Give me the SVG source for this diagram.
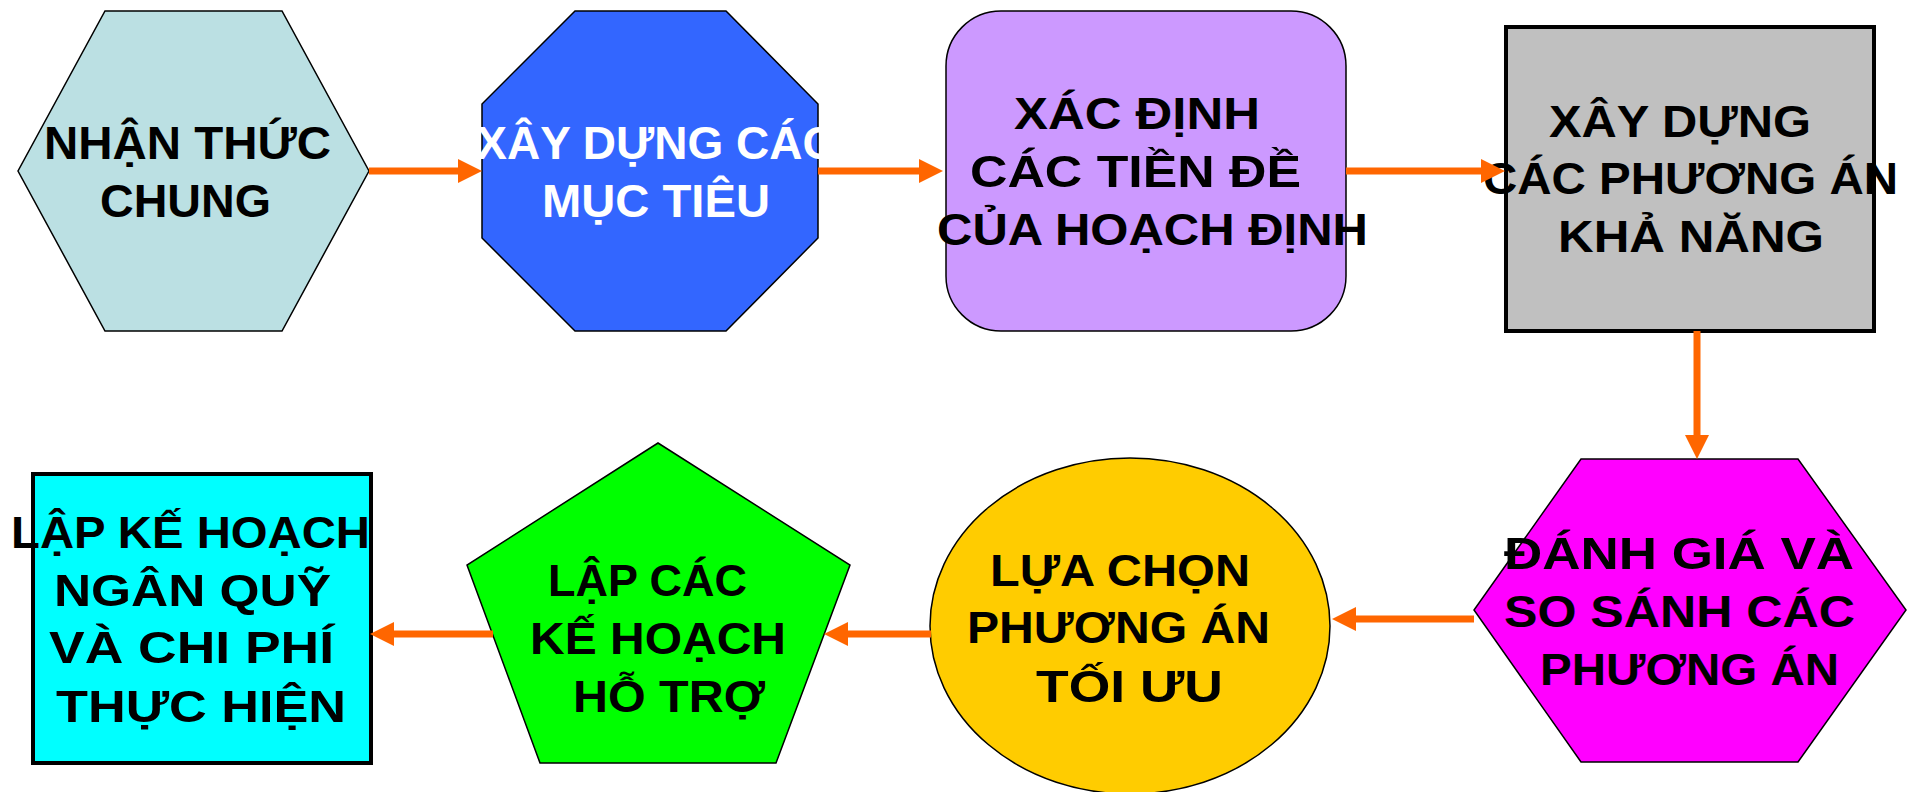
<svg xmlns="http://www.w3.org/2000/svg" width="1919" height="792" viewBox="0 0 1919 792">
  <style>
    .shape { stroke: #000; stroke-width: 1.5; }
    .box { stroke: #000; stroke-width: 4; }
    .lbl { font-family: "Liberation Sans", Arial, "Noto Sans", sans-serif; font-weight: bold; font-size: 46px; fill: #000; }
    .narrow { font-size: 45px; }
    .white { fill: #fff; }
    .conn { stroke: #FF6600; stroke-width: 7; fill: none; marker-end: url(#head); }
  </style>
  <defs>
    <marker id="head" markerUnits="userSpaceOnUse" viewBox="0 0 24 24" refX="1" refY="12" markerWidth="24" markerHeight="24" orient="auto">
      <path d="M0,0 L24,12 L0,24 Z" fill="#FF6600"/>
    </marker>
  </defs>
  <rect width="1919" height="792" fill="#fff"/>

  <!-- Step 1: hexagon -->
  <g id="nhan-thuc-chung">
    <polygon class="shape" points="105,11 282,11 369,171 282,331 105,331 18,171" fill="#BBE0E3"/>
    <text class="lbl" x="44" y="159" textLength="287" lengthAdjust="spacingAndGlyphs">NHẬN THỨC</text>
    <text class="lbl" x="100" y="217" textLength="171" lengthAdjust="spacingAndGlyphs">CHUNG</text>
  </g>

  <!-- Step 2: octagon -->
  <g id="xay-dung-muc-tieu">
    <polygon class="shape" points="575,11 726,11 818,104 818,238 726,331 575,331 482,238 482,104" fill="#3366FF"/>
    <text class="lbl white" x="656" y="159" text-anchor="middle">XÂY DỰNG CÁC</text>
    <text class="lbl white" x="542" y="217" textLength="228" lengthAdjust="spacingAndGlyphs">MỤC TIÊU</text>
  </g>

  <!-- Step 3: rounded rectangle -->
  <g id="xac-dinh-tien-de">
    <rect class="shape" x="946" y="11" width="400" height="320" rx="55" ry="55" fill="#CC99FF"/>
    <text class="lbl narrow" x="1014" y="129" textLength="246" lengthAdjust="spacingAndGlyphs">XÁC ĐỊNH</text>
    <text class="lbl narrow" x="970" y="187" textLength="331" lengthAdjust="spacingAndGlyphs">CÁC TIỀN ĐỀ</text>
    <text class="lbl narrow" x="937" y="245" textLength="431" lengthAdjust="spacingAndGlyphs">CỦA HOẠCH ĐỊNH</text>
  </g>

  <!-- Step 4: framed rectangle -->
  <g id="xay-dung-phuong-an">
    <rect class="box" x="1506" y="27" width="368" height="304" fill="#C0C0C0"/>
    <text class="lbl narrow" x="1549" y="137" textLength="262" lengthAdjust="spacingAndGlyphs">XÂY DỰNG</text>
    <text class="lbl narrow" x="1483" y="194" textLength="415" lengthAdjust="spacingAndGlyphs">CÁC PHƯƠNG ÁN</text>
    <text class="lbl narrow" x="1558" y="252" textLength="266" lengthAdjust="spacingAndGlyphs">KHẢ NĂNG</text>
  </g>

  <!-- Step 5: hexagon -->
  <g id="danh-gia-so-sanh">
    <polygon class="shape" points="1581,459 1798,459 1906,610 1798,762 1581,762 1474,610" fill="#FF00FF"/>
    <text class="lbl narrow" x="1504" y="569" textLength="350" lengthAdjust="spacingAndGlyphs">ĐÁNH GIÁ VÀ</text>
    <text class="lbl narrow" x="1504" y="627" textLength="351" lengthAdjust="spacingAndGlyphs">SO SÁNH CÁC</text>
    <text class="lbl narrow" x="1540" y="685" textLength="299" lengthAdjust="spacingAndGlyphs">PHƯƠNG ÁN</text>
  </g>

  <!-- Step 6: ellipse -->
  <g id="lua-chon-toi-uu">
    <ellipse class="shape" cx="1130" cy="626" rx="200" ry="168" fill="#FFCC00"/>
    <text class="lbl narrow" x="990" y="586" textLength="260" lengthAdjust="spacingAndGlyphs">LỰA CHỌN</text>
    <text class="lbl narrow" x="967" y="643" textLength="303" lengthAdjust="spacingAndGlyphs">PHƯƠNG ÁN</text>
    <text class="lbl narrow" x="1036" y="702" textLength="187" lengthAdjust="spacingAndGlyphs">TỐI ƯU</text>
  </g>

  <!-- Step 7: pentagon -->
  <g id="ke-hoach-ho-tro">
    <polygon class="shape" points="658,443 850,565 776,763 540,763 467,565" fill="#00FF00"/>
    <text class="lbl narrow" x="548" y="596" textLength="199" lengthAdjust="spacingAndGlyphs">LẬP CÁC</text>
    <text class="lbl narrow" x="530" y="654" textLength="256" lengthAdjust="spacingAndGlyphs">KẾ HOẠCH</text>
    <text class="lbl narrow" x="573" y="712" textLength="192" lengthAdjust="spacingAndGlyphs">HỖ TRỢ</text>
  </g>

  <!-- Step 8: framed rectangle -->
  <g id="ngan-quy-chi-phi">
    <rect class="box" x="33" y="474" width="338" height="289" fill="#00FFFF"/>
    <text class="lbl narrow" x="11" y="548" textLength="359" lengthAdjust="spacingAndGlyphs">LẬP KẾ HOẠCH</text>
    <text class="lbl narrow" x="54" y="606" textLength="277" lengthAdjust="spacingAndGlyphs">NGÂN QUỸ</text>
    <text class="lbl narrow" x="49" y="663" textLength="285" lengthAdjust="spacingAndGlyphs">VÀ CHI PHÍ</text>
    <text class="lbl narrow" x="56" y="722" textLength="290" lengthAdjust="spacingAndGlyphs">THỰC HIỆN</text>
  </g>

  <!-- Flow connectors -->
  <g id="connectors">
    <line class="conn" x1="369" y1="171" x2="459" y2="171"/>
    <line class="conn" x1="818" y1="171" x2="920" y2="171"/>
    <line class="conn" x1="1346" y1="171" x2="1482" y2="171"/>
    <line class="conn" x1="1697" y1="331" x2="1697" y2="436"/>
    <line class="conn" x1="1474" y1="619" x2="1355" y2="619"/>
    <line class="conn" x1="931" y1="634" x2="847" y2="634"/>
    <line class="conn" x1="493" y1="634" x2="393" y2="634"/>
  </g>
</svg>
